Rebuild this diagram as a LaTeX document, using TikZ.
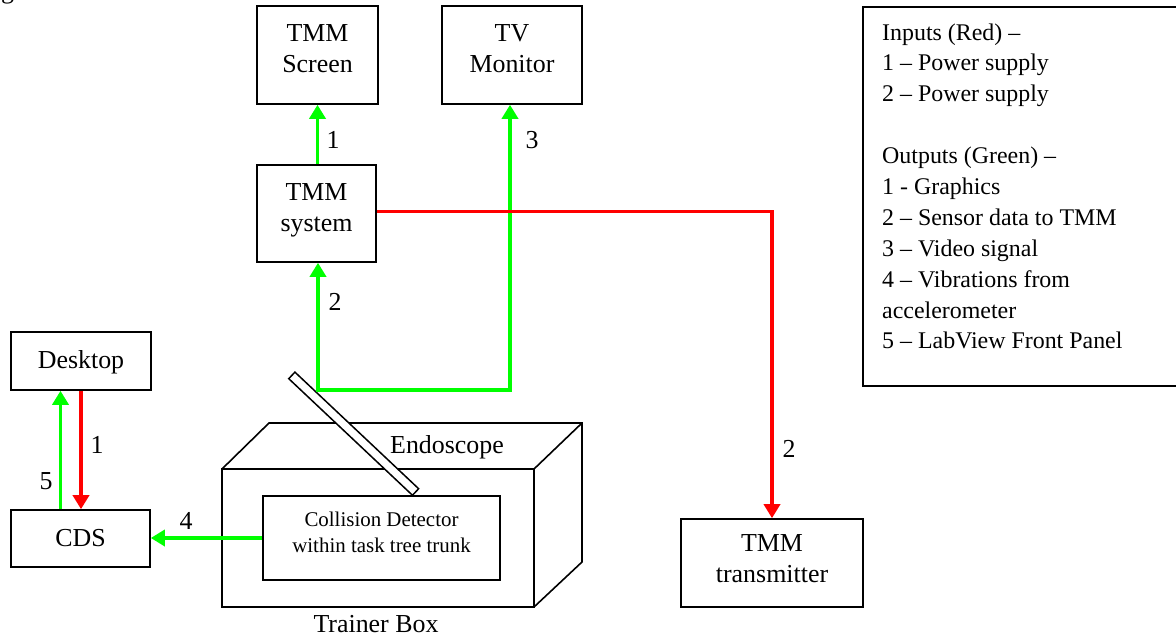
\documentclass[tikz,border=0pt]{standalone}
\usepackage{fontspec}
\setmainfont{Liberation Serif}
\usetikzlibrary{arrows.meta,calc}
\definecolor{lgreen}{RGB}{0,255,0}
\definecolor{lred}{RGB}{255,0,0}
\begin{document}
\begin{tikzpicture}[x=1bp,y=-1bp,
  box/.style={draw=black, line width=1.6bp, inner sep=0pt},
  txt/.style={inner sep=0pt, align=center, font=\fontsize{26}{31}\selectfont},
  lbl/.style={inner sep=0pt, font=\fontsize{26}{31}\selectfont},
  garrow/.style={draw=lgreen, line width=3.6bp, -{Triangle[width=16bp,length=14bp]}},
  rarrow/.style={draw=lred, line width=3.6bp, -{Triangle[width=16bp,length=14bp]}},
  outline/.style={draw=black, line width=1.6bp, line join=miter},
]
\useasboundingbox (0,0) rectangle (1176,637);

% fragment of text cut at the top edge
\node[lbl, anchor=base west] (gfrag) at (1,-1) {g};

% boxes
\node[box, minimum width=121bp, minimum height=98bp] (scr) at (317.5,55) {};
\node[txt] (scrT) at (317.5,49) {TMM\\Screen};
\node[box, minimum width=140bp, minimum height=98bp] (tv) at (512,55) {};
\node[txt] (tvT) at (512,49) {TV\\Monitor};
\node[box, minimum width=119bp, minimum height=97bp] (sys) at (316.5,213.5) {};
\node[txt] (sysT) at (316.5,210.5) {TMM\\system};
\node[box, minimum width=182bp, minimum height=88bp] (tx) at (772,563) {};
\node[txt] (txT) at (772,559) {TMM\\transmitter};
\node[box, minimum width=140bp, minimum height=58bp] (desk) at (81,361) {};
\node[txt] (deskT) at (81,362) {Desktop};
\node[box, minimum width=139bp, minimum height=57bp] (cds) at (80.5,538.5) {};
\node[txt] (cdsT) at (80.5,538.5) {CDS};

% trainer box
\draw[outline] (222,469) rectangle (534,607);
\draw[outline] (222,469) -- (269,423) -- (582,423) -- (582,562) -- (534,607);
\draw[outline] (534,469) -- (582,423);
\node[lbl] (tbl) at (376,624) {Trainer Box};

% endoscope
\node[draw, fill=white, line width=1.5bp, inner sep=0pt, minimum width=170bp,
      minimum height=9bp, rotate=-43.3] (endo) at (353.7,433.7) {};
\node[lbl] (endl) at (447,447) {Endoscope};

% collision detector
\node[box, minimum width=237bp, minimum height=84bp] (coll) at (381.5,538) {};
\node[inner sep=0pt, align=center, font=\fontsize{21}{26}\selectfont] (collT) at (381.5,532)
  {Collision Detector\\within task tree trunk};

% legend
\node[box, anchor=north west, minimum width=340bp, minimum height=379bp] (legend) at (862,6) {};
\node[anchor=north west, inner sep=0pt, align=left, font=\fontsize{24}{31}\selectfont] (legT) at (882,23.3)
  {Inputs (Red) –\\1 – Power supply\\2 – Power supply\\[31pt]Outputs (Green) –\\1 - Graphics\\2 – Sensor data to TMM\\3 – Video signal\\4 – Vibrations from\\accelerometer\\5 – LabView Front Panel};

% connectors
\coordinate (j) at (318,390);
\draw[garrow] (sys.north -| scr.south) -- (scr.south);
\draw[garrow, {Triangle[width=16bp,length=14bp]}-{Triangle[width=16bp,length=14bp]}]
  (j |- sys.south) -- (j) -| ([xshift=-2bp]tv.south);
\draw[rarrow] ([yshift=2bp]sys.east) -| (tx.north);
\draw[garrow] ([xshift=-20bp]cds.north) -- ([xshift=-20bp]cds.north |- desk.south);
\draw[rarrow] (desk.south) -- (desk.south |- cds.north);
\draw[garrow] (coll.west) -- (coll.west -| cds.east);

% connector labels
\node[lbl] (l1) at (333,140) {1};
\node[lbl] (l3) at (532,140) {3};
\node[lbl] (l2) at (335,302) {2};
\node[lbl] (l2r) at (789,449) {2};
\node[lbl] (l1d) at (97,445) {1};
\node[lbl] (l5) at (46,481) {5};
\node[lbl] (l4) at (186,521) {4};
\end{tikzpicture}
\end{document}
